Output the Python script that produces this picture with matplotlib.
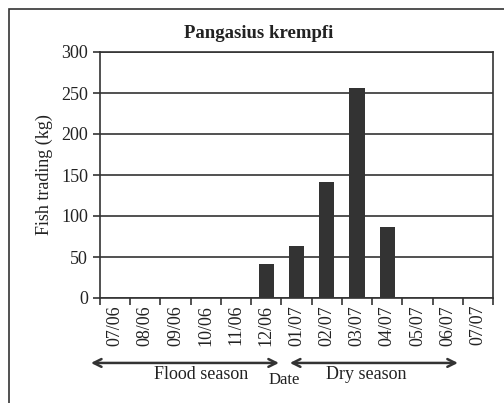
import matplotlib.pyplot as plt
from matplotlib.patches import Rectangle

# Data
dates = ["07/06", "08/06", "09/06", "10/06", "11/06", "12/06", "01/07",
         "02/07", "03/07", "04/07", "05/07", "06/07", "07/07"]
trading = [0, 0, 0, 0, 0, 42, 63, 141, 256, 86, 0, 0, 0]
y_ticks = [0, 50, 100, 150, 200, 250, 300]

BAR_COL = "#333333"
LINE_COL = "#333333"
FONT = "Liberation Serif"

plt.rcParams["font.family"] = FONT

fig = plt.figure(figsize=(5.04, 4.03), dpi=100)
fig.patches.append(
    Rectangle((9 / 504, -0.1), 1.2, 1 - 9 / 403 + 0.1,
              transform=fig.transFigure, fill=False,
              edgecolor=LINE_COL, linewidth=1.2)
)
ax = fig.add_axes([100 / 504, 1 - 298 / 403, 393 / 504, 246 / 403])

x = list(range(len(dates)))
ax.bar(x, trading, width=0.5, color=BAR_COL, zorder=3)

ax.set_xlim(-0.5, len(dates) - 0.5)
ax.set_ylim(0, 300)
ax.set_yticks(y_ticks)
ax.yaxis.grid(True, color=LINE_COL, linewidth=1.2, zorder=0)
ax.tick_params(axis="y", labelsize=13, length=5, width=1.2, color=LINE_COL,
               labelcolor="#222222")

ax.set_xticks(x)
ax.set_xticklabels(dates, rotation=90, fontsize=13, color="#222222")
ax.set_xticks([i - 0.5 for i in range(len(dates) + 1)], minor=True)
ax.tick_params(axis="x", which="major", length=0, pad=5)
ax.tick_params(axis="x", which="minor", length=5, width=1.2, color=LINE_COL)

for side in ["top", "right", "bottom", "left"]:
    ax.spines[side].set_color(LINE_COL)
    ax.spines[side].set_linewidth(1.2)

fig.text(259 / 504, 1 - 34 / 403, "Pangasius krempfi", fontsize=13.5,
         fontweight="bold", color="#222222", ha="center", va="center")
ax.set_ylabel("Fish trading (kg)", fontsize=13, color="#222222", labelpad=6)

# Season arrows
trans = ax.get_xaxis_transform()
arrow_kw = dict(arrowstyle="<->", color=LINE_COL, lw=1.8,
                mutation_scale=14, shrinkA=0, shrinkB=0)
ax.annotate("", xy=(5.42, -0.264), xytext=(-0.8, -0.264), xycoords=trans,
            textcoords=trans, arrowprops=arrow_kw, annotation_clip=False)
ax.annotate("", xy=(11.34, -0.264), xytext=(5.78, -0.264), xycoords=trans,
            textcoords=trans, arrowprops=arrow_kw, annotation_clip=False)
ax.text(2.85, -0.313, "Flood season", transform=trans, ha="center",
        va="center", fontsize=13, color="#222222")
ax.text(5.6, -0.333, "Date", transform=trans, ha="center",
        va="center", fontsize=12, color="#222222")
ax.text(8.3, -0.313, "Dry season", transform=trans, ha="center",
        va="center", fontsize=13, color="#222222")

fig.savefig("out.png", dpi=100)
